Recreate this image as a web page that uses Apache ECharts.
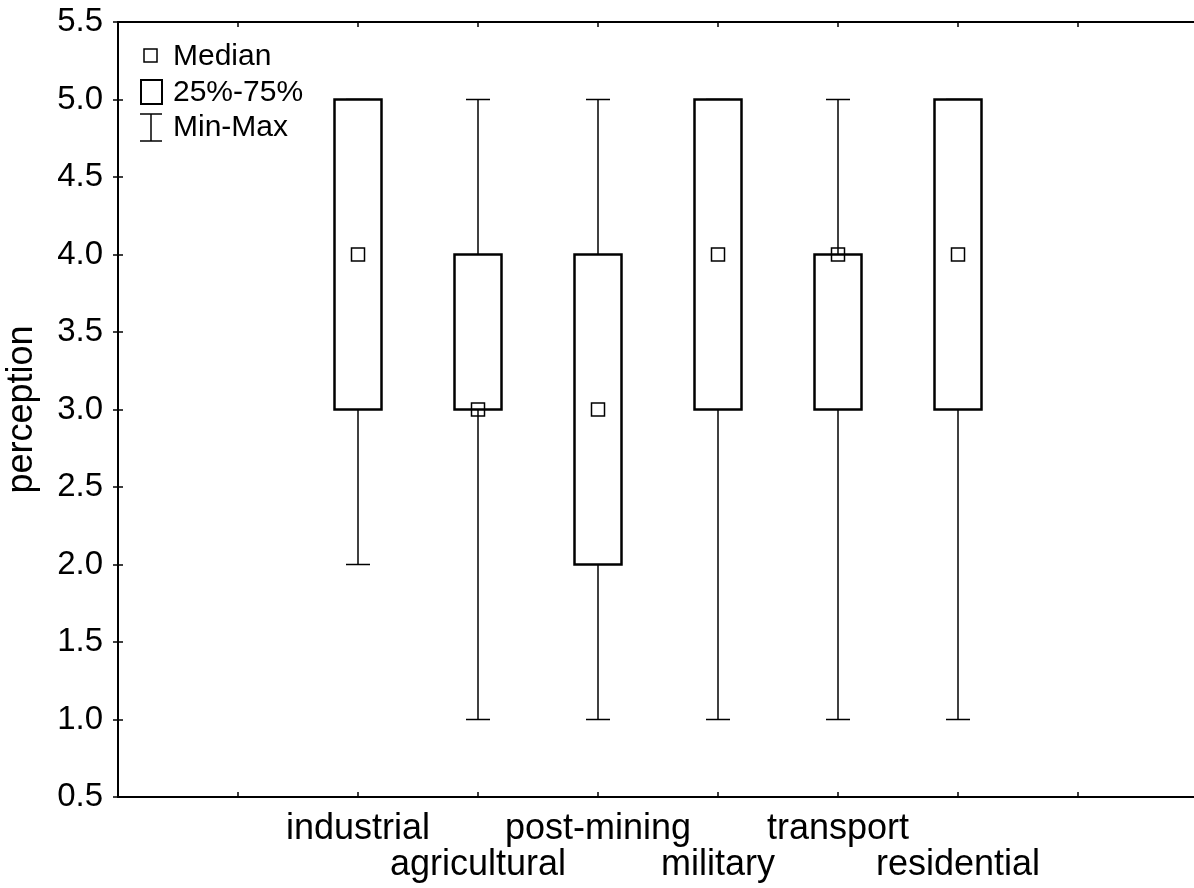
<!DOCTYPE html>
<html>
<head>
<meta charset="utf-8">
<script src="https://cdn.jsdelivr.net/npm/echarts@6/dist/echarts.min.js"></script>
<style>
  html, body { margin: 0; padding: 0; background: #fff; }
  #chart { width: 1194px; height: 888px; }
</style>
</head>
<body>
<div id="chart"></div>
<script>
// Land-use categories and their perception score summaries
const categories  = ['industrial', 'agricultural', 'post-mining', 'military', 'transport', 'residential'];
const minVals     = [2, 1, 1, 1, 1, 1];
const q1Vals      = [3, 3, 2, 3, 3, 3];
const medianVals  = [4, 3, 3, 4, 4, 4];
const q3Vals      = [5, 4, 4, 5, 4, 5];
const maxVals     = [5, 5, 5, 5, 5, 5];

// Legend entries
const legendLabels = ['Median', '25%-75%', 'Min-Max'];

const FONT = '"Liberation Sans", Arial, Helvetica, sans-serif';
const X_START = 2;          // first category position on the x scale
const X_MIN = 0, X_MAX = 9; // x scale extent

const boxData = categories.map((c, i) => [i + X_START, minVals[i], q1Vals[i], medianVals[i], q3Vals[i], maxVals[i]]);

function renderBox(params, api) {
  const x = api.value(0);
  const pMin = api.coord([x, api.value(1)]);
  const pQ1  = api.coord([x, api.value(2)]);
  const pMed = api.coord([x, api.value(3)]);
  const pQ3  = api.coord([x, api.value(4)]);
  const pMax = api.coord([x, api.value(5)]);
  const cx = Math.round(pMed[0]);
  const halfBox = 23.5, halfCap = 12, halfMed = 6.5;
  const thin = { stroke: '#000', lineWidth: 1.5, fill: null };
  return {
    type: 'group',
    children: [
      { type: 'line', shape: { x1: cx, y1: pQ3[1], x2: cx, y2: pMax[1] }, style: thin },
      { type: 'line', shape: { x1: cx, y1: pQ1[1], x2: cx, y2: pMin[1] }, style: thin },
      { type: 'line', shape: { x1: cx - halfCap, y1: pMax[1], x2: cx + halfCap, y2: pMax[1] }, style: thin },
      { type: 'line', shape: { x1: cx - halfCap, y1: pMin[1], x2: cx + halfCap, y2: pMin[1] }, style: thin },
      { type: 'rect', shape: { x: cx - halfBox, y: pQ3[1], width: 2 * halfBox, height: pQ1[1] - pQ3[1] },
        style: { fill: '#fff', stroke: '#000', lineWidth: 2.5 } },
      { type: 'rect', shape: { x: cx - halfMed, y: pMed[1] - halfMed, width: 2 * halfMed, height: 2 * halfMed },
        style: { fill: null, stroke: '#000', lineWidth: 1.5 } }
    ]
  };
}

function xLabel(v) {
  const k = Math.round(v) - X_START;
  if (k < 0 || k >= categories.length) return '';
  return (k % 2 === 1 ? '\n' : '') + categories[k];
}

const axisLine = { show: true, lineStyle: { color: '#000', width: 2 } };
const axisTick = { show: true, inside: true, length: 5, lineStyle: { color: '#000', width: 1.5 } };

const chart = echarts.init(document.getElementById('chart'), null, { renderer: 'canvas' });

chart.setOption({
  animation: false,
  backgroundColor: '#fff',
  grid: { left: 118, top: 22, width: 1080, height: 775, containLabel: false, outerBoundsMode: 'none' },
  xAxis: [
    { type: 'value', min: X_MIN, max: X_MAX, interval: 1, position: 'bottom',
      axisLine, axisTick, splitLine: { show: false },
      axisLabel: { formatter: xLabel, color: '#000', fontFamily: FONT, fontSize: 36, lineHeight: 36, margin: 14 } },
    { type: 'value', min: X_MIN, max: X_MAX, interval: 1, position: 'top',
      axisLine, axisTick, splitLine: { show: false }, axisLabel: { show: false } }
  ],
  yAxis: [
    { type: 'value', min: 0.5, max: 5.5, interval: 0.5, position: 'left',
      axisLine, axisTick, splitLine: { show: false },
      axisLabel: { formatter: v => v.toFixed(1), color: '#000', fontFamily: FONT, fontSize: 33, margin: 15 },
      name: 'perception', nameLocation: 'middle', nameRotate: 90, nameGap: 78,
      nameTextStyle: { color: '#000', fontFamily: FONT, fontSize: 36 } },
    { type: 'value', min: 0.5, max: 5.5, interval: 0.5, position: 'right',
      axisLine, axisTick, splitLine: { show: false }, axisLabel: { show: false } }
  ],
  series: [{
    type: 'custom',
    xAxisIndex: 0, yAxisIndex: 0,
    renderItem: renderBox,
    encode: { x: 0, y: [1, 2, 3, 4, 5] },
    data: boxData,
    z: 5
  }],
  graphic: [
    { type: 'rect', shape: { x: 144, y: 49, width: 13, height: 13 }, style: { fill: null, stroke: '#000', lineWidth: 1.5 } },
    { type: 'rect', shape: { x: 141, y: 80, width: 21, height: 24 }, style: { fill: null, stroke: '#000', lineWidth: 2 } },
    { type: 'line', shape: { x1: 151, y1: 114, x2: 151, y2: 141 }, style: { stroke: '#000', lineWidth: 1.5 } },
    { type: 'line', shape: { x1: 140, y1: 114, x2: 162, y2: 114 }, style: { stroke: '#000', lineWidth: 1.5 } },
    { type: 'line', shape: { x1: 140, y1: 141, x2: 162, y2: 141 }, style: { stroke: '#000', lineWidth: 1.5 } },
    { type: 'text', x: 173, y: 57, style: { text: legendLabels[0], fill: '#000', font: '30px ' + FONT, textVerticalAlign: 'middle' } },
    { type: 'text', x: 173, y: 93, style: { text: legendLabels[1], fill: '#000', font: '30px ' + FONT, textVerticalAlign: 'middle' } },
    { type: 'text', x: 173, y: 128, style: { text: legendLabels[2], fill: '#000', font: '30px ' + FONT, textVerticalAlign: 'middle' } }
  ]
});
</script>
</body>
</html>
